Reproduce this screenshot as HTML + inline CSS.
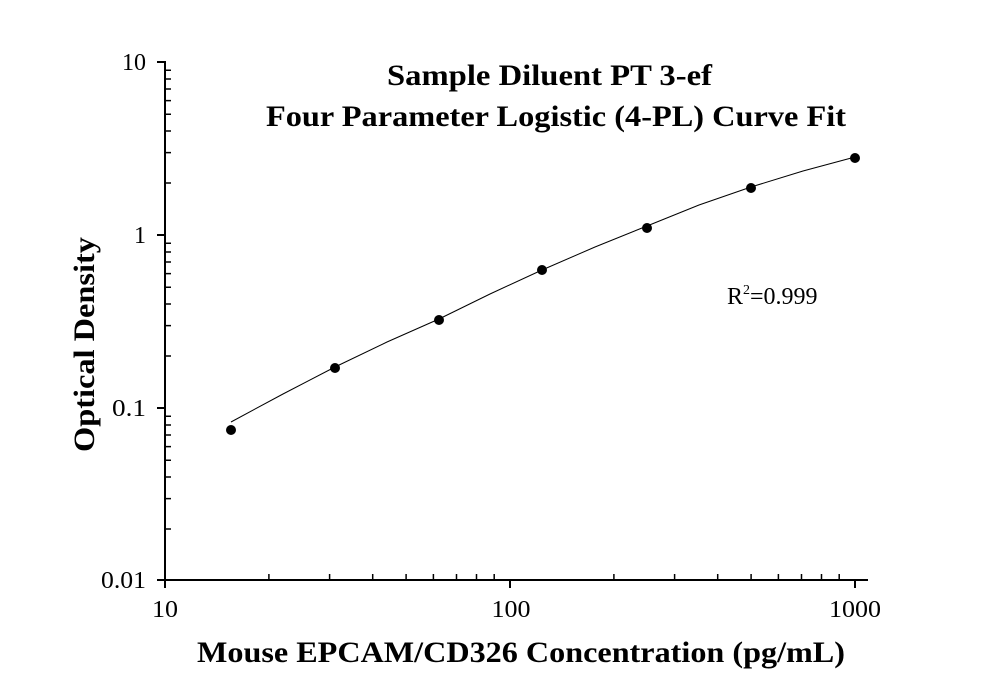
<!DOCTYPE html>
<html><head><meta charset="utf-8"><style>
html,body{margin:0;padding:0;background:#fff;}
svg{display:block;}
text{font-family:"Liberation Serif",serif;fill:#000;}
</style></head><body>
<svg width="1008" height="697" viewBox="0 0 1008 697" xmlns="http://www.w3.org/2000/svg">
<g stroke="#000" stroke-width="2" fill="none">
<line x1="165" y1="61" x2="165" y2="581"/>
<line x1="164" y1="580" x2="868" y2="580"/>
<line x1="157" y1="62" x2="165" y2="62"/>
<line x1="157" y1="235" x2="165" y2="235"/>
<line x1="157" y1="408" x2="165" y2="408"/>
<line x1="157" y1="580" x2="165" y2="580"/>
<line x1="165" y1="580" x2="165" y2="588"/>
<line x1="510" y1="580" x2="510" y2="588"/>
<line x1="855" y1="580" x2="855" y2="588"/>
</g>
<g stroke="#000" stroke-width="1.5">
<path d="M165 183h6M165 152.6h6M165 131h6M165 114.3h6M165 100.6h6M165 89h6M165 79h6M165 70.2h6
M165 356h6M165 325.6h6M165 304h6M165 287.3h6M165 273.6h6M165 262h6M165 252h6M165 243.2h6
M165 529h6M165 498.6h6M165 477h6M165 460.3h6M165 446.6h6M165 435h6M165 425h6M165 416.2h6"/>
<path d="M268.9 580v-6M329.6 580v-6M372.7 580v-6M406.1 580v-6M433.4 580v-6M456.5 580v-6M476.5 580v-6M494.2 580v-6
M613.9 580v-6M674.6 580v-6M717.7 580v-6M751.1 580v-6M778.4 580v-6M801.5 580v-6M821.5 580v-6M839.2 580v-6"/>
</g>
<polyline fill="none" stroke="#000" stroke-width="1" points="231,422 283,394 335,367 387,342 439,319 490,294 542,270 595,247 647,226 699,205 751,187 803,171 855,157"/>
<g fill="#000">
<circle cx="231" cy="430" r="5"/><circle cx="335" cy="368" r="5"/><circle cx="439" cy="320" r="5"/>
<circle cx="542" cy="270" r="5"/><circle cx="647" cy="228" r="5"/><circle cx="751" cy="188" r="5"/><circle cx="855" cy="158" r="5"/>
</g>
<g font-size="24">
<text x="146" y="70" text-anchor="end" textLength="24" lengthAdjust="spacingAndGlyphs">10</text>
<text x="146" y="243" text-anchor="end">1</text>
<text x="146" y="416" text-anchor="end" textLength="34" lengthAdjust="spacingAndGlyphs">0.1</text>
<text x="146" y="588" text-anchor="end" textLength="45" lengthAdjust="spacingAndGlyphs">0.01</text>
<text x="165" y="617" text-anchor="middle" textLength="26" lengthAdjust="spacingAndGlyphs">10</text>
<text x="511" y="617" text-anchor="middle" textLength="39" lengthAdjust="spacingAndGlyphs">100</text>
<text x="855" y="617" text-anchor="middle" textLength="52" lengthAdjust="spacingAndGlyphs">1000</text>
<text x="727" y="304">R<tspan font-size="14" dy="-10">2</tspan><tspan dy="10">=0.999</tspan></text>
</g>
<g font-size="30" font-weight="bold">
<text x="387" y="85" textLength="325" lengthAdjust="spacingAndGlyphs">Sample Diluent PT 3-ef</text>
<text x="266" y="126" textLength="580" lengthAdjust="spacingAndGlyphs">Four Parameter Logistic (4-PL) Curve Fit</text>
<text x="197" y="662" textLength="648" lengthAdjust="spacingAndGlyphs">Mouse EPCAM/CD326 Concentration (pg/mL)</text>
<text transform="translate(94,452) rotate(-90)" textLength="215" lengthAdjust="spacingAndGlyphs">Optical Density</text>
</g>
</svg>
</body></html>
